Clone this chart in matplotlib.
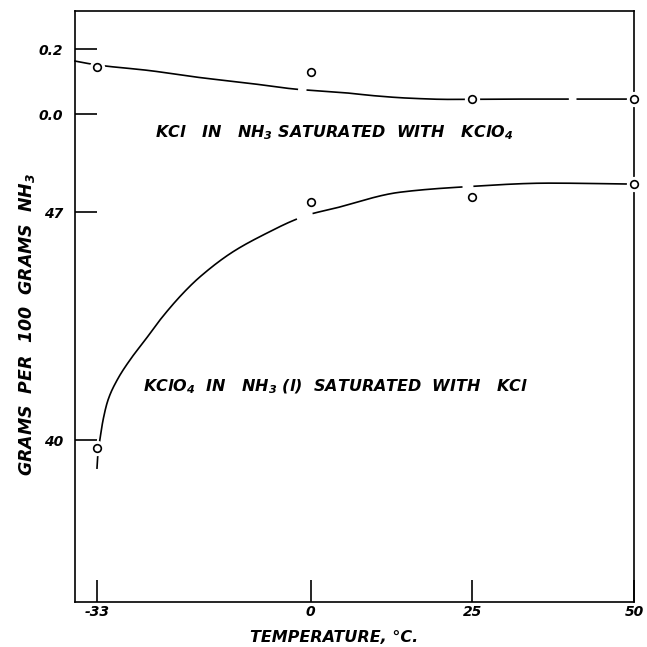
import numpy as np
import matplotlib
matplotlib.use("Agg")
import matplotlib.pyplot as plt

plt.rcParams["font.family"] = ["DejaVu Sans"]
plt.rcParams["mathtext.fontset"] = "custom"
plt.rcParams["mathtext.rm"] = "DejaVu Sans:italic:bold"
plt.rcParams["mathtext.it"] = "DejaVu Sans:italic:bold"
plt.rcParams["mathtext.bf"] = "DejaVu Sans:italic:bold"

# Measured solubilities
temps = [-33, 0, 25, 50]
kcl_vals = [0.145, 0.130, 0.046, 0.046]          # KCl in NH3 saturated with KClO4
kclo4_vals = [39.75, 47.32, 47.47, 47.86]        # KClO4 in NH3 saturated with KCl

# Smoothed curves drawn through the data
kcl_curve_t = [-36.4, -33, -25, -17, -10, -2, 0, 5, 10, 15, 21.5, 30, 40, 50]
kcl_curve_v = [0.163, 0.151, 0.134, 0.112, 0.096, 0.076, 0.073, 0.066, 0.056,
               0.049, 0.045, 0.046, 0.046, 0.046]
kcl_gaps = [(-2.0, -0.5), (39.8, 41.2)]

kclo4_curve_t = [-33.0, -32.85, -32.54, -32.07, -31.3, -29.9, -27.8, -25.5, -23.3,
                 -19.7, -17.1, -12.0, -6.8, -2.2, 0.4, 3.0, 13.8, 23.3, 36.9, 50]
kclo4_curve_v = [39.14, 39.6, 40.03, 40.61, 41.23, 41.84, 42.49, 43.09, 43.68,
                 44.51, 45.01, 45.78, 46.35, 46.78, 46.96, 47.08, 47.61, 47.77,
                 47.89, 47.86]
kclo4_gaps = [(-2.2, 0.4), (23.4, 25.3)]

x_ticks = [-33, 0, 25, 50]
x_ticklabels = ["-33", "0", "25", "50"]
top_ticks = [0.0, 0.2]
top_ticklabels = ["0.0", "0.2"]
bottom_ticks = [40, 47]
bottom_ticklabels = ["40", "47"]


def pchip(xk, yk, xs):
    xk = np.asarray(xk, float)
    yk = np.asarray(yk, float)
    h = np.diff(xk)
    d = np.diff(yk) / h
    n = len(xk)
    m = np.zeros(n)
    for k in range(1, n - 1):
        if d[k - 1] * d[k] <= 0:
            m[k] = 0.0
        else:
            w1 = 2 * h[k] + h[k - 1]
            w2 = h[k] + 2 * h[k - 1]
            m[k] = (w1 + w2) / (w1 / d[k - 1] + w2 / d[k])
    m[0] = d[0]
    m[-1] = d[-1]
    idx = np.clip(np.searchsorted(xk, xs) - 1, 0, n - 2)
    t = (xs - xk[idx]) / h[idx]
    h00 = 2 * t**3 - 3 * t**2 + 1
    h10 = t**3 - 2 * t**2 + t
    h01 = -2 * t**3 + 3 * t**2
    h11 = t**3 - t**2
    return (h00 * yk[idx] + h10 * h[idx] * m[idx]
            + h01 * yk[idx + 1] + h11 * h[idx] * m[idx + 1])


def draw_curve(ax, tk, vk, gaps):
    xs = np.linspace(tk[0], tk[-1], 1500)
    ys = pchip(tk, vk, xs)
    for a, b in gaps:
        ys[(xs > a) & (xs < b)] = np.nan
    ax.plot(xs, ys, color="black", lw=1.2, zorder=2, clip_on=False)


def draw_points(ax, t, v):
    ax.plot(t, v, "o", ms=11, mfc="white", mec="none", zorder=3, clip_on=False)
    ax.plot(t, v, "o", ms=5.5, mfc="white", mec="black", mew=1.2, zorder=4,
            clip_on=False)


W = H = 647
fig = plt.figure(figsize=(6.47, 6.47), dpi=100)

left_px, right_px = 75, 634
top_px, split_px, bottom_px = 10.7, 160, 602


def axes_rect(y0, y1):
    return [left_px / W, 1 - y1 / H, (right_px - left_px) / W, (y1 - y0) / H]


# Frame around the whole plotting area
ax_frame = fig.add_axes(axes_rect(top_px, bottom_px))
ax_frame.set_xticks([])
ax_frame.set_yticks([])
ax_frame.set_facecolor("white")
for s in ax_frame.spines.values():
    s.set_linewidth(1.2)

ax_top = fig.add_axes(axes_rect(top_px, split_px))
ax_bot = fig.add_axes(axes_rect(split_px, bottom_px), sharex=ax_top)

for ax in (ax_top, ax_bot):
    ax.set_facecolor("none")
    for s in ax.spines.values():
        s.set_visible(False)

ax_top.set_xlim(-36.4, 50)
ax_top.set_ylim(-0.1415, 0.318)
ax_bot.set_ylim(35.03, 48.6)

tick_font = dict(fontsize=10, fontstyle="italic", fontweight="bold")

ax_top.tick_params(axis="x", which="both", bottom=False, top=False,
                   labelbottom=False)
ax_top.tick_params(axis="y", direction="in", length=15.8, width=1.2, pad=8.5,
                   right=False)
ax_top.set_yticks(top_ticks)
ax_top.set_yticklabels(top_ticklabels, **tick_font)

ax_bot.tick_params(axis="y", direction="in", length=15.8, width=1.2, pad=8.5,
                   right=False)
ax_bot.set_yticks(bottom_ticks)
ax_bot.set_yticklabels(bottom_ticklabels, **tick_font)
ax_bot.tick_params(axis="x", direction="in", length=15.8, width=1.2, pad=2,
                   top=False)
ax_bot.set_xticks(x_ticks)
ax_bot.set_xticklabels(x_ticklabels, **tick_font)

draw_curve(ax_top, kcl_curve_t, kcl_curve_v, kcl_gaps)
draw_curve(ax_bot, kclo4_curve_t, kclo4_curve_v, kclo4_gaps)
draw_points(ax_top, temps, kcl_vals)
draw_points(ax_bot, temps, kclo4_vals)

label_font = dict(fontsize=11.5, fontstyle="italic", fontweight="bold")

fig.text(155 / W, 1 - 133 / H,
         r"KCl   IN   NH$_3$ SATURATED  WITH   KClO$_4$",
         ha="left", va="center", **label_font)
fig.text(143 / W, 1 - 387 / H,
         r"KClO$_4$  IN   NH$_3$ (l)  SATURATED  WITH   KCl",
         ha="left", va="center", **label_font)
fig.text(334 / W, 1 - 637 / H, "TEMPERATURE, °C.",
         ha="center", va="center", **label_font)
fig.text(27 / W, 1 - 325 / H, r"GRAMS  PER  100  GRAMS  NH$_3$",
         ha="center", va="center", rotation=90,
         **dict(label_font, fontsize=12.5))

fig.savefig("out.png", dpi=100)
